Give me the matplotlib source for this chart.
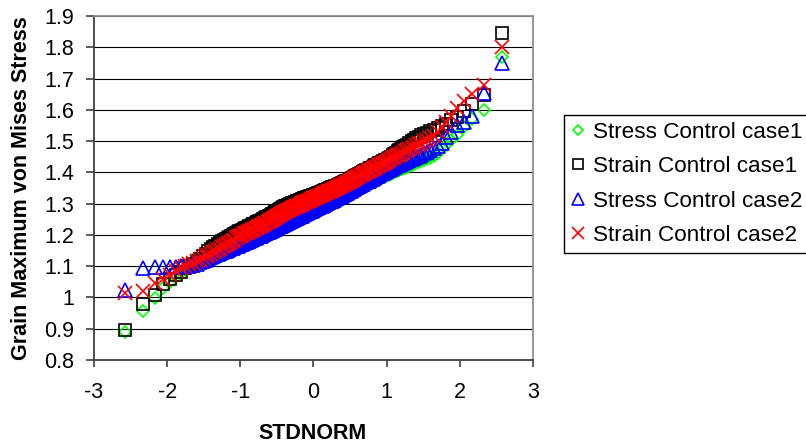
import numpy as np
import matplotlib
matplotlib.use("Agg")
import matplotlib.pyplot as plt
from matplotlib.ticker import FuncFormatter
from statistics import NormalDist

plt.rcParams['font.family'] = ['Liberation Sans', 'DejaVu Sans']
plt.rcParams['axes.unicode_minus'] = False

# sorted grain maximum von Mises stress values (199 grains per run)
stress_case1 = [
    0.890, 0.957, 0.998, 1.030, 1.049, 1.064, 1.078, 1.088, 1.095, 1.100,
    1.104, 1.108, 1.111, 1.114, 1.117, 1.120, 1.123, 1.126, 1.129, 1.132,
    1.135, 1.137, 1.140, 1.142, 1.145, 1.147, 1.149, 1.151, 1.153, 1.156,
    1.158, 1.160, 1.162, 1.164, 1.166, 1.168, 1.170, 1.172, 1.174, 1.176,
    1.178, 1.180, 1.182, 1.184, 1.186, 1.188, 1.189, 1.191, 1.193, 1.195,
    1.196, 1.198, 1.200, 1.201, 1.203, 1.205, 1.206, 1.208, 1.210, 1.211,
    1.213, 1.215, 1.216, 1.218, 1.219, 1.221, 1.222, 1.224, 1.226, 1.227,
    1.229, 1.230, 1.232, 1.233, 1.235, 1.236, 1.238, 1.239, 1.241, 1.242,
    1.244, 1.245, 1.247, 1.248, 1.250, 1.251, 1.253, 1.254, 1.255, 1.257,
    1.258, 1.260, 1.261, 1.263, 1.264, 1.266, 1.267, 1.268, 1.270, 1.271,
    1.273, 1.274, 1.276, 1.277, 1.279, 1.280, 1.282, 1.283, 1.285, 1.286,
    1.288, 1.289, 1.291, 1.292, 1.294, 1.295, 1.297, 1.298, 1.300, 1.301,
    1.303, 1.304, 1.306, 1.307, 1.309, 1.310, 1.312, 1.313, 1.315, 1.316,
    1.318, 1.320, 1.321, 1.323, 1.325, 1.326, 1.328, 1.330, 1.331, 1.333,
    1.335, 1.337, 1.338, 1.340, 1.342, 1.344, 1.346, 1.348, 1.350, 1.352,
    1.354, 1.356, 1.358, 1.360, 1.362, 1.364, 1.366, 1.368, 1.370, 1.372,
    1.374, 1.376, 1.378, 1.380, 1.382, 1.384, 1.387, 1.389, 1.391, 1.393,
    1.396, 1.398, 1.400, 1.403, 1.405, 1.407, 1.410, 1.412, 1.415, 1.417,
    1.420, 1.423, 1.426, 1.429, 1.432, 1.435, 1.439, 1.443, 1.447, 1.452,
    1.462, 1.474, 1.488, 1.502, 1.520, 1.545, 1.572, 1.600, 1.770]

strain_case1 = [
    0.896, 0.979, 1.008, 1.043, 1.058, 1.072, 1.081, 1.093, 1.101, 1.108,
    1.116, 1.124, 1.132, 1.140, 1.147, 1.154, 1.161, 1.166, 1.171, 1.176,
    1.180, 1.184, 1.188, 1.191, 1.194, 1.197, 1.200, 1.203, 1.206, 1.209,
    1.212, 1.214, 1.217, 1.219, 1.221, 1.223, 1.225, 1.227, 1.230, 1.232,
    1.234, 1.236, 1.238, 1.240, 1.242, 1.244, 1.246, 1.248, 1.250, 1.252,
    1.254, 1.256, 1.258, 1.260, 1.262, 1.264, 1.266, 1.268, 1.270, 1.272,
    1.274, 1.276, 1.278, 1.280, 1.282, 1.284, 1.286, 1.288, 1.290, 1.292,
    1.293, 1.294, 1.296, 1.297, 1.298, 1.299, 1.301, 1.302, 1.303, 1.304,
    1.306, 1.307, 1.308, 1.309, 1.311, 1.312, 1.313, 1.314, 1.316, 1.317,
    1.318, 1.319, 1.320, 1.321, 1.322, 1.323, 1.324, 1.325, 1.326, 1.327,
    1.328, 1.329, 1.330, 1.332, 1.333, 1.334, 1.335, 1.336, 1.338, 1.339,
    1.340, 1.341, 1.343, 1.344, 1.345, 1.346, 1.348, 1.349, 1.350, 1.352,
    1.353, 1.354, 1.356, 1.357, 1.358, 1.360, 1.361, 1.362, 1.364, 1.365,
    1.367, 1.368, 1.370, 1.371, 1.373, 1.374, 1.376, 1.378, 1.379, 1.381,
    1.383, 1.385, 1.387, 1.389, 1.391, 1.393, 1.395, 1.397, 1.399, 1.401,
    1.403, 1.405, 1.407, 1.409, 1.411, 1.413, 1.415, 1.417, 1.420, 1.422,
    1.424, 1.426, 1.429, 1.431, 1.433, 1.436, 1.438, 1.441, 1.443, 1.446,
    1.450, 1.454, 1.458, 1.462, 1.467, 1.471, 1.476, 1.480, 1.485, 1.489,
    1.494, 1.499, 1.504, 1.509, 1.514, 1.518, 1.522, 1.527, 1.531, 1.536,
    1.542, 1.548, 1.556, 1.566, 1.578, 1.596, 1.618, 1.648, 1.846]

stress_case2 = [
    1.024, 1.095, 1.096, 1.097, 1.098, 1.099, 1.100, 1.101, 1.102, 1.104,
    1.108, 1.112, 1.116, 1.120, 1.124, 1.128, 1.131, 1.135, 1.138, 1.142,
    1.145, 1.147, 1.150, 1.152, 1.155, 1.157, 1.159, 1.161, 1.163, 1.166,
    1.168, 1.170, 1.172, 1.174, 1.176, 1.178, 1.180, 1.182, 1.184, 1.186,
    1.188, 1.189, 1.191, 1.193, 1.195, 1.197, 1.198, 1.200, 1.202, 1.204,
    1.205, 1.207, 1.209, 1.210, 1.212, 1.214, 1.215, 1.217, 1.219, 1.220,
    1.222, 1.224, 1.225, 1.227, 1.228, 1.230, 1.231, 1.233, 1.235, 1.236,
    1.238, 1.239, 1.241, 1.242, 1.244, 1.245, 1.247, 1.248, 1.250, 1.251,
    1.253, 1.254, 1.256, 1.257, 1.259, 1.260, 1.262, 1.263, 1.264, 1.266,
    1.267, 1.269, 1.270, 1.272, 1.273, 1.275, 1.276, 1.277, 1.279, 1.280,
    1.282, 1.283, 1.285, 1.286, 1.288, 1.289, 1.291, 1.292, 1.294, 1.295,
    1.297, 1.298, 1.300, 1.301, 1.303, 1.304, 1.306, 1.307, 1.309, 1.310,
    1.312, 1.313, 1.315, 1.317, 1.318, 1.320, 1.321, 1.323, 1.325, 1.326,
    1.328, 1.330, 1.331, 1.333, 1.335, 1.337, 1.339, 1.340, 1.342, 1.344,
    1.346, 1.348, 1.350, 1.352, 1.354, 1.356, 1.358, 1.360, 1.362, 1.364,
    1.366, 1.368, 1.370, 1.372, 1.374, 1.376, 1.378, 1.380, 1.382, 1.384,
    1.387, 1.389, 1.392, 1.394, 1.397, 1.399, 1.402, 1.404, 1.407, 1.409,
    1.412, 1.414, 1.417, 1.419, 1.422, 1.425, 1.428, 1.431, 1.434, 1.437,
    1.440, 1.443, 1.446, 1.449, 1.453, 1.457, 1.461, 1.466, 1.471, 1.477,
    1.484, 1.495, 1.512, 1.530, 1.550, 1.560, 1.580, 1.655, 1.750]

strain_case2 = [
    1.014, 1.020, 1.046, 1.060, 1.071, 1.084, 1.094, 1.100, 1.106, 1.111,
    1.116, 1.121, 1.126, 1.131, 1.135, 1.140, 1.144, 1.148, 1.152, 1.156,
    1.160, 1.164, 1.168, 1.171, 1.175, 1.178, 1.182, 1.185, 1.189, 1.192,
    1.195, 1.198, 1.200, 1.203, 1.205, 1.207, 1.209, 1.211, 1.213, 1.215,
    1.217, 1.219, 1.221, 1.223, 1.225, 1.227, 1.229, 1.231, 1.233, 1.235,
    1.237, 1.239, 1.241, 1.243, 1.245, 1.247, 1.249, 1.251, 1.253, 1.255,
    1.257, 1.259, 1.261, 1.263, 1.265, 1.267, 1.269, 1.270, 1.272, 1.274,
    1.276, 1.277, 1.279, 1.280, 1.282, 1.283, 1.285, 1.286, 1.288, 1.289,
    1.291, 1.292, 1.294, 1.295, 1.297, 1.298, 1.300, 1.301, 1.302, 1.304,
    1.305, 1.306, 1.308, 1.309, 1.310, 1.312, 1.313, 1.314, 1.316, 1.317,
    1.318, 1.319, 1.321, 1.322, 1.323, 1.325, 1.326, 1.327, 1.329, 1.330,
    1.331, 1.333, 1.334, 1.335, 1.337, 1.338, 1.339, 1.341, 1.342, 1.344,
    1.345, 1.347, 1.348, 1.350, 1.351, 1.353, 1.354, 1.356, 1.357, 1.359,
    1.360, 1.362, 1.364, 1.365, 1.367, 1.369, 1.370, 1.372, 1.374, 1.375,
    1.377, 1.379, 1.381, 1.383, 1.385, 1.387, 1.389, 1.391, 1.393, 1.395,
    1.397, 1.399, 1.401, 1.403, 1.405, 1.407, 1.409, 1.411, 1.413, 1.415,
    1.417, 1.419, 1.422, 1.424, 1.426, 1.429, 1.431, 1.434, 1.436, 1.439,
    1.442, 1.445, 1.448, 1.451, 1.454, 1.457, 1.460, 1.463, 1.467, 1.470,
    1.474, 1.478, 1.482, 1.486, 1.490, 1.495, 1.500, 1.505, 1.511, 1.517,
    1.530, 1.545, 1.560, 1.580, 1.605, 1.628, 1.650, 1.680, 1.800]

labels = ['Stress Control case1', 'Strain Control case1',
          'Stress Control case2', 'Strain Control case2']
yticks = [0.8, 0.9, 1.0, 1.1, 1.2, 1.3, 1.4, 1.5, 1.6, 1.7, 1.8, 1.9]
xticks = [-3, -2, -1, 0, 1, 2, 3]


def stdnorm(values):
    # normal score of each rank, like Excel's NORMSINV(rank/(n+1))
    n = len(values)
    return [NormalDist().inv_cdf(i / (n + 1)) for i in range(1, n + 1)]


fig = plt.figure(figsize=(8.06, 4.46), dpi=100)
ax = fig.add_axes([0.1166, 0.1928, 0.5447, 0.7713])

ax.plot(stdnorm(stress_case1), stress_case1, 'D', ms=6.3, mfc='none', mec='#00ff00', mew=1.2, label=labels[0])
ax.plot(stdnorm(strain_case1), strain_case1, 's', ms=8.5, mfc='none', mec='black', mew=1.2, label=labels[1])
ax.plot(stdnorm(stress_case2), stress_case2, '^', ms=10.5, mfc='none', mec='#0000ff', mew=1.2, label=labels[2])
ax.plot(stdnorm(strain_case2), strain_case2, 'x', ms=10.5, mec='#ff0000', mew=1.2, label=labels[3])

ax.set_xlim(-3, 3)
ax.set_ylim(0.8, 1.9)
ax.set_xticks(xticks)
ax.set_yticks(yticks)
ax.yaxis.set_major_formatter(FuncFormatter(lambda v, p: '%g' % round(v, 2)))
ax.yaxis.grid(True, color='black', lw=0.8)
ax.set_axisbelow(True)

for s in ['top', 'right']:
    ax.spines[s].set_color('#909090')
    ax.spines[s].set_linewidth(1.3)
for s in ['left', 'bottom']:
    ax.spines[s].set_color('#404040')
    ax.spines[s].set_linewidth(1.3)
ax.tick_params(axis='y', direction='out', length=6, width=1.2, color='#404040', labelsize=15.5, pad=8)
ax.tick_params(axis='x', direction='out', length=5, width=1.2, color='#404040', labelsize=15.5, pad=11)

ax.set_xlabel('STDNORM', fontsize=15.5, fontweight='bold')
ax.set_ylabel('Grain Maximum von Mises Stress', fontsize=15.5, fontweight='bold')
ax.xaxis.set_label_coords(0.499, -0.183)
ax.yaxis.set_label_coords(-0.141, 0.5)

leg = ax.legend(loc='upper left', bbox_to_anchor=(564 / 806, 1 - 115 / 446),
                bbox_transform=fig.transFigure, fontsize=16.2, frameon=True,
                fancybox=False, edgecolor='black', framealpha=1,
                borderpad=0.3, handlelength=0.6, handletextpad=0.4,
                labelspacing=0.6, borderaxespad=0, markerscale=0.85)
leg.get_frame().set_linewidth(1.0)

fig.savefig('out.png', dpi=100)
